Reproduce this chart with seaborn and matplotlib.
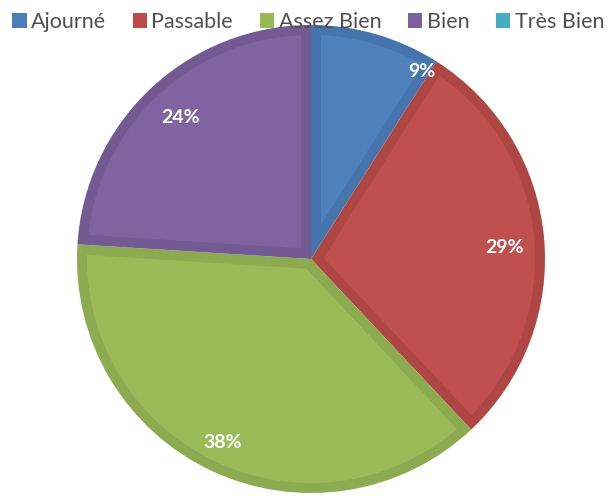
import seaborn as sns
import matplotlib.pyplot as plt
from matplotlib.patches import Patch, Polygon
import numpy as np

# Data
categories = ['Ajourné', 'Passable', 'Assez Bien', 'Bien', 'Très Bien']
shares = [9, 29, 38, 24, 0]

sns.set_theme(style="white")
plt.rcParams['font.family'] = ['Lato', 'DejaVu Sans']

fill_colors = ['#4F81BD', '#C0504D', '#9BBB59', '#8064A2', '#4BACC6']
edge_colors = ['#4675AD', '#AE4744', '#8CAA50', '#735A93', '#4198B0']
legend_colors = ['#4A7EBB', '#BE4B48', '#98B954', '#7D60A0', '#46AAC5']

fig = plt.figure(figsize=(6.08, 4.96), dpi=100)
R = 234
cx, cy = 311, 496 - 259
ax = fig.add_axes([(cx - R) / 608, (cy - R) / 496, 2 * R / 608, 2 * R / 496])

# only non-zero slices are drawn, the empty one stays in the legend
shown = [i for i, v in enumerate(shares) if v > 0]
vals = [shares[i] for i in shown]
wedges, _ = ax.pie(vals, colors=[edge_colors[i] for i in shown],
                   startangle=90, counterclock=False, radius=1,
                   wedgeprops=dict(linewidth=0))

# lighter inner face of each slice, inset by the border width
d = 10 / R
for w, i in zip(wedges, shown):
    t1, t2 = np.deg2rad(w.theta1), np.deg2rad(w.theta2)
    half = (t2 - t1) / 2
    apex = d / np.sin(half)
    bis = t1 + half
    delta = np.arcsin(d / (w.r - d))
    arc = np.linspace(t1 + delta, t2 - delta, 120)
    xs = np.r_[apex * np.cos(bis), (w.r - d) * np.cos(arc)]
    ys = np.r_[apex * np.sin(bis), (w.r - d) * np.sin(arc)]
    ax.add_patch(Polygon(np.c_[xs, ys], closed=True,
                         facecolor=fill_colors[i], edgecolor='none'))

ax.set_xlim(-1, 1)
ax.set_ylim(-1, 1)
ax.set_aspect('equal')
ax.axis('off')

# percentage labels, near the outer end of each slice
angle_shift = [14.5, 2, 0.5, 0.5]
label_r = [0.93, 0.83, 0.87, 0.82]
for k, (w, i) in enumerate(zip(wedges, shown)):
    mid = (w.theta1 + w.theta2) / 2 - angle_shift[k]
    a = np.deg2rad(mid)
    ax.text(label_r[k] * np.cos(a), label_r[k] * np.sin(a), f"{shares[i]}%",
            color='white', fontsize=14, fontweight='bold',
            ha='center', va='center')

handles = [Patch(facecolor=c, edgecolor='none') for c in legend_colors]
fig.legend(handles, categories, loc='upper center', bbox_to_anchor=(0.507, 1.015),
           ncol=5, frameon=False, fontsize=15.5, handlelength=0.66,
           handleheight=0.66, handletextpad=0.2, columnspacing=1.25,
           labelcolor='#505050')

fig.savefig('out.png', dpi=100)
